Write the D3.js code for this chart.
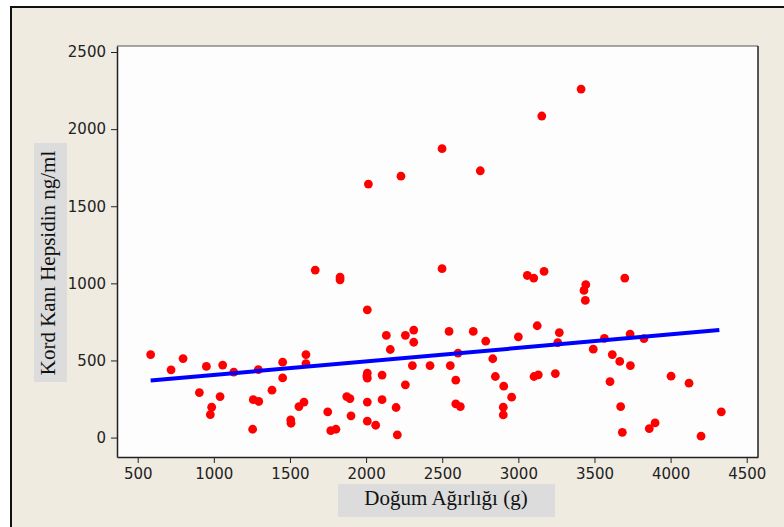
<!DOCTYPE html>
<html>
<head>
<meta charset="utf-8">
<script src="https://cdn.jsdelivr.net/npm/d3@7"></script>
<style>
  html, body { margin: 0; padding: 0; background: #fff; }
  svg { display: block; }
</style>
</head>
<body>
<svg id="chart" width="784" height="527"></svg>
<script>
// birth weight (g) and cord blood hepcidin (ng/ml)
const birthWeight = [
  585, 719, 798, 905, 951, 986, 977, 1058, 1041, 1131,
  1255, 1259, 1295, 1292, 1382, 1452, 1452, 1505, 1507, 1559,
  1592, 1605, 1605, 1666, 1748, 1768, 1802, 1829, 1829, 1873,
  1894, 1901, 2008, 2008, 2008, 2005, 2008, 2008, 2015, 2063,
  2105, 2105, 2133, 2159, 2197, 2205, 2229, 2258, 2258, 2313,
  2313, 2304, 2420, 2499, 2499, 2545, 2553, 2604, 2589, 2589,
  2619, 2704, 2750, 2786, 2832, 2849, 2904, 2901, 2901, 2956,
  3000, 3059, 3101, 3103, 3131, 3124, 3154, 3169, 3243, 3269,
  3259, 3412, 3443, 3431, 3440, 3492, 3565, 3602, 3617, 3666,
  3672, 3683, 3699, 3734, 3736, 3825, 3860, 3898, 4003, 4121,
  4200, 4333
]
const hepcidin = [
  538, 439, 512, 292, 461, 197, 149, 470, 266, 424,
  54, 246, 234, 441, 307, 489, 387, 115, 93, 201,
  230, 538, 480, 1086, 167, 45, 54, 1040, 1023, 266,
  253, 141, 828, 418, 385, 400, 230, 106, 1644, 80,
  405, 246, 662, 571, 195, 18, 1695, 663, 342, 697,
  618, 467, 467, 1873, 1095, 688, 467, 548, 372, 219,
  201, 688, 1730, 625, 511, 396, 333, 197, 147, 262,
  653, 1051, 1034, 396, 407, 725, 2085, 1077, 415, 681,
  616, 2260, 991, 954, 889, 573, 643, 363, 538, 494,
  201, 34, 1034, 671, 467, 642, 58, 95, 398, 353,
  9, 167
]
// ends of the fitted line
const fitWeight = [585, 4320]
const fitHepcidin = [370, 697]

const xTicks = [500, 1000, 1500, 2000, 2500, 3000, 3500, 4000, 4500]
const yTicks = [0, 500, 1000, 1500, 2000, 2500]
const xTitle = 'Doğum Ağırlığı (g)'
const yTitle = 'Kord Kanı Hepsidin ng/ml'

const svg = d3.select('#chart')
const plot = { left: 117, top: 46, right: 758, bottom: 457 }

// outer panel
svg.append('rect')
  .attr('x', 11).attr('y', 7)
  .attr('width', 800).attr('height', 540)
  .attr('fill', '#efebe1')
  .attr('stroke', '#111')
  .attr('stroke-width', 2)

svg.append('rect')
  .attr('x', plot.left).attr('y', plot.top)
  .attr('width', plot.right - plot.left)
  .attr('height', plot.bottom - plot.top)
  .attr('fill', '#fdfdfd')

const x = d3.scaleLinear().domain([364, 4574]).range([plot.left, plot.right])
const y = d3.scaleLinear().domain([-126, 2539]).range([plot.bottom, plot.top])

// axes
const xAxis = svg.append('g')
  .attr('transform', `translate(0,${plot.bottom})`)
  .call(d3.axisBottom(x).tickValues(xTicks).tickSizeInner(6).tickSizeOuter(0)
    .tickPadding(5).tickFormat(d3.format('d')))
const yAxis = svg.append('g')
  .attr('transform', `translate(${plot.left},0)`)
  .call(d3.axisLeft(y).tickValues(yTicks).tickSizeInner(6).tickSizeOuter(0)
    .tickPadding(5).tickFormat(d3.format('d')))

;[xAxis, yAxis].forEach(function(g) {
  g.select('.domain').attr('stroke', '#222').attr('stroke-width', 1.5)
  g.selectAll('.tick line').attr('stroke', '#222')
  g.selectAll('.tick text')
    .attr('fill', '#222')
    .style('font-family', '"DejaVu Sans", Verdana, sans-serif')
    .style('font-size', '15px')
})

// top and right frame
svg.append('line')
  .attr('x1', plot.left).attr('x2', plot.right)
  .attr('y1', plot.top).attr('y2', plot.top)
  .attr('stroke', '#555').attr('stroke-width', 1.2)
svg.append('line')
  .attr('x1', plot.right).attr('x2', plot.right)
  .attr('y1', plot.top).attr('y2', plot.bottom)
  .attr('stroke', '#222').attr('stroke-width', 1.5)

// points
svg.append('g')
  .selectAll('circle')
  .data(d3.zip(birthWeight, hepcidin))
  .join('circle')
  .attr('cx', d => x(d[0]))
  .attr('cy', d => y(d[1]))
  .attr('r', 4.4)
  .attr('fill', '#ff0000')

// fitted line
svg.append('path')
  .datum(d3.zip(fitWeight, fitHepcidin))
  .attr('d', d3.line().x(d => x(d[0])).y(d => y(d[1])))
  .attr('fill', 'none')
  .attr('stroke', '#0000ff')
  .attr('stroke-width', 4)

// axis titles on grey boxes
svg.append('rect')
  .attr('x', 338).attr('y', 484)
  .attr('width', 217).attr('height', 33)
  .attr('fill', '#dcdcdc')
svg.append('text')
  .attr('x', 446).attr('y', 505)
  .attr('text-anchor', 'middle')
  .style('font-family', '"Liberation Serif", "Times New Roman", serif')
  .style('font-size', '21px')
  .attr('fill', '#111')
  .text(xTitle)

svg.append('rect')
  .attr('x', 34).attr('y', 143)
  .attr('width', 33).attr('height', 239)
  .attr('fill', '#dcdcdc')
svg.append('text')
  .attr('transform', 'translate(55,263) rotate(-90)')
  .attr('text-anchor', 'middle')
  .style('font-family', '"Liberation Serif", "Times New Roman", serif')
  .style('font-size', '21px')
  .attr('fill', '#111')
  .text(yTitle)
</script>
</body>
</html>
